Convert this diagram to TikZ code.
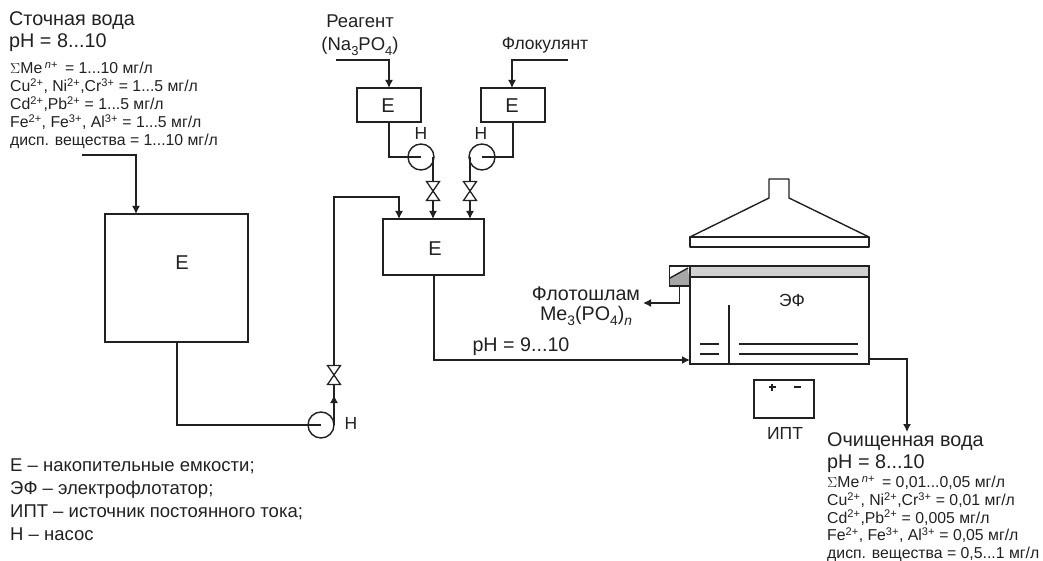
\documentclass[tikz,border=0pt]{standalone}
\usepackage{fontspec}
\setmainfont{Liberation Sans}
\usetikzlibrary{arrows.meta}
\definecolor{ink}{gray}{0.13}
\tikzset{
 x=1pt,y=-1pt,
 pipe/.style={line width=1.4pt,draw=ink},
 flow/.style={pipe,-{Latex[length=8pt,width=8pt]}},
 tank/.style={draw=ink,line width=1.4pt,fill=white,inner sep=0pt},
 pump/.style={circle,draw=ink,line width=1.4pt,minimum size=26pt,inner sep=0pt},
 valve/.style={draw=ink,line width=1.3pt,fill=white},
 big/.style={anchor=north west,align=left,inner sep=0pt,font=\fontsize{19.8}{22}\selectfont,text=ink},
 legend/.style={anchor=north west,align=left,inner sep=0pt,font=\fontsize{18.5}{22.7}\selectfont,text=ink},
 small/.style={anchor=north west,align=left,inner sep=0pt,font=\fontsize{15.8}{18}\selectfont,text=ink},
 smalltight/.style={small,font=\fontsize{15.8}{17.6}\selectfont},
 lab/.style={inner sep=0pt,font=\fontsize{17.5}{23}\selectfont,text=ink},
 lablarge/.style={inner sep=0pt,align=center,font=\fontsize{19.7}{20}\selectfont,text=ink},
 tanklab/.style={inner sep=0pt,font=\fontsize{20}{20}\selectfont,text=ink},
}
\newcommand{\sps}[1]{\textsuperscript{#1}}
\newcommand{\sbs}[1]{\raisebox{-0.25em}{\scalebox{0.7}{#1}}}
\newcommand{\vlv}[1]{%
 \draw[valve] ([shift={(-6.5,-9.5)}]#1)--([shift={(6.5,-9.5)}]#1)--([shift={(-6.5,9.5)}]#1)--([shift={(6.5,9.5)}]#1)--cycle;}
\begin{document}
\begin{tikzpicture}
\useasboundingbox (0,0) rectangle (1043,561);
% tanks
\node[tank,minimum width=143pt,minimum height=128pt] (e1) at (176.5,278) {};
\node[tank,minimum width=101pt,minimum height=56pt] (e2) at (433.5,247) {};
\node[tank,minimum width=64pt,minimum height=34pt] (e3) at (389,105) {};
\node[tank,minimum width=64pt,minimum height=34pt] (e4) at (513,105) {};
\node[tanklab] (le1) at (182,263) {Е};
\node[tanklab] (le2) at (435,249) {Е};
\node[tanklab] (le3) at (388,105.5) {Е};
\node[tanklab] (le4) at (512,106) {Е};
% pumps
\node[pump] (p1) at (321,425) {};
\node[pump] (p2) at (421,157) {};
\node[pump] (p3) at (482,157) {};
\node[lab] (h1) at (351,423) {Н};
\node[lab] (h2) at (421,133) {Н};
\node[lab] (h3) at (481,133) {Н};
% junctions
\coordinate (v1) at (334,375);
\coordinate (v2) at (433,191);
\coordinate (v3) at (470,191);
\coordinate (s1) at (82,155);
\coordinate (s2) at (336,60);
\coordinate (s3) at (568,60);
\coordinate (c0) at (177,342);
\coordinate (c1) at (177,425);
\coordinate (c2) at (334,197);
\coordinate (a1) at (334,425);
\coordinate (a2) at (334,395);
\coordinate (t1) at (136,214);
\coordinate (t2) at (399,219);
\coordinate (t3) at (389,88);
\coordinate (t4) at (512,88);
\coordinate (t5) at (433,219);
\coordinate (t6) at (470,219);
\coordinate (d2) at (389,122);
\coordinate (d3) at (513,122);
\coordinate (top2) at (433,157);
\coordinate (top3) at (470,157);
% inlet lines
\draw[flow] (s1) -| (t1);
\draw[flow] (s2) -| (t3);
\draw[flow] (s3) -| (t4);
% tank to pump
\draw[pipe] (c0) -- (c1) -- (p1.center);
\draw[pipe] (d2) |- (p2.center);
\draw[pipe] (d3) |- (p3.center);
% pump to valve
\draw[pipe] (a1) -- (v1);
\draw[flow] (a1) -- (a2);
\draw[pipe] (top2) -- (v2);
\draw[pipe] (top3) -- (v3);
% into E
\draw[flow] (v2) -- (t5);
\draw[flow] (v3) -- (t6);
\draw[flow] (v1) -- (c2) -| (t2);
\vlv{v1}
\vlv{v2}
\vlv{v3}
% flotator
\fill[black!18] (690,266) rectangle (869,277);
\draw[pipe] (690,266) rectangle (869,364);
\draw[pipe] (690,277) -- (869,277);
\fill[black!35] (670,278) -- (688,268) -- (690,286) -- (670,286) -- cycle;
\draw[pipe] (669.5,266) rectangle (690,286);
\draw[pipe] (670,278) -- (688,268);
\node[lab] (ef) at (792,300) {ЭФ};
\draw[pipe] (729,305) -- (729,364);
\draw[pipe,line width=1.1pt] (700,344) -- (719,344) (700,354) -- (719,354);
\draw[pipe,line width=1.1pt] (739,344) -- (858,344) (739,354) -- (858,354);
% hood
\draw[pipe,line join=round] (690,237) rectangle (869,247);
\draw[pipe,line join=round] (690,237) -- (769,198) -- (769,179) -- (789,179) -- (789,198) -- (869,237);
% IPT
\node[draw=ink,line width=1.4pt,minimum width=60pt,minimum height=38pt,inner sep=0pt] (ipt) at (784,399) {};
\draw[line width=1.2pt,draw=ink] (772,383.5) -- (772,390.5) (768.5,387) -- (775.5,387);
\draw[line width=1.2pt,draw=ink] (793.5,387) -- (800.5,387);
\node[lab] (liptt) at (785,433) {ИПТ};
% main lines
\coordinate (m1) at (434,360);
\coordinate (m2) at (690,360);
\coordinate (o1) at (869,359);
\coordinate (o2) at (907,432);
\coordinate (w1) at (679.5,286);
\coordinate (w2) at (643,303);
\draw[flow] (e2.south -| m1) -- (m1) -- (m2);
\draw[flow] (o1) -| (o2);
\draw[flow] (w1) |- (w2);
\node[big] (n1) at (9,11.5) {Сточная вода\\pH = 8...10};
\node[small] (n2) at (10,61.5) {$\Sigma$Me\,\sps{\textit{n}+}\, = 1...10 мг/л\\Cu\sps{2+}, Ni\sps{2+},Cr\sps{3+} = 1...5 мг/л\\Cd\sps{2+},Pb\sps{2+} = 1...5 мг/л\\Fe\sps{2+}, Fe\sps{3+}, Al\sps{3+} = 1...5 мг/л\\дисп. вещества = 1...10 мг/л};
\node[lab,align=center,font=\fontsize{18.5}{23}\selectfont] (n3) at (360,35) {Реагент\\(Na\sbs{3}PO\sbs{4})};
\node[lab] (n4) at (545,45) {Флокулянт};
\node[lablarge] (n5) at (586,306) {Флотошлам\\Me\sbs{3}(PO\sbs{4})\sbs{\textit{n}}};
\node[lablarge] (n6) at (521,347) {pH = 9...10};
\node[legend] (n7) at (10,459) {Е – накопительные емкости;\\ЭФ – электрофлотатор;\\ИПТ – источник постоянного тока;\\Н – насос};
\node[big] (n8) at (827,432.5) {Очищенная вода\\pH = 8...10};
\node[smalltight] (n9) at (827,476) {$\Sigma$Me\,\sps{\textit{n}+}\, = 0,01...0,05 мг/л\\Cu\sps{2+}, Ni\sps{2+},Cr\sps{3+} = 0,01 мг/л\\Cd\sps{2+},Pb\sps{2+} = 0,005 мг/л\\Fe\sps{2+}, Fe\sps{3+}, Al\sps{3+} = 0,05 мг/л\\дисп. вещества = 0,5...1 мг/л};
\end{tikzpicture}
\end{document}
